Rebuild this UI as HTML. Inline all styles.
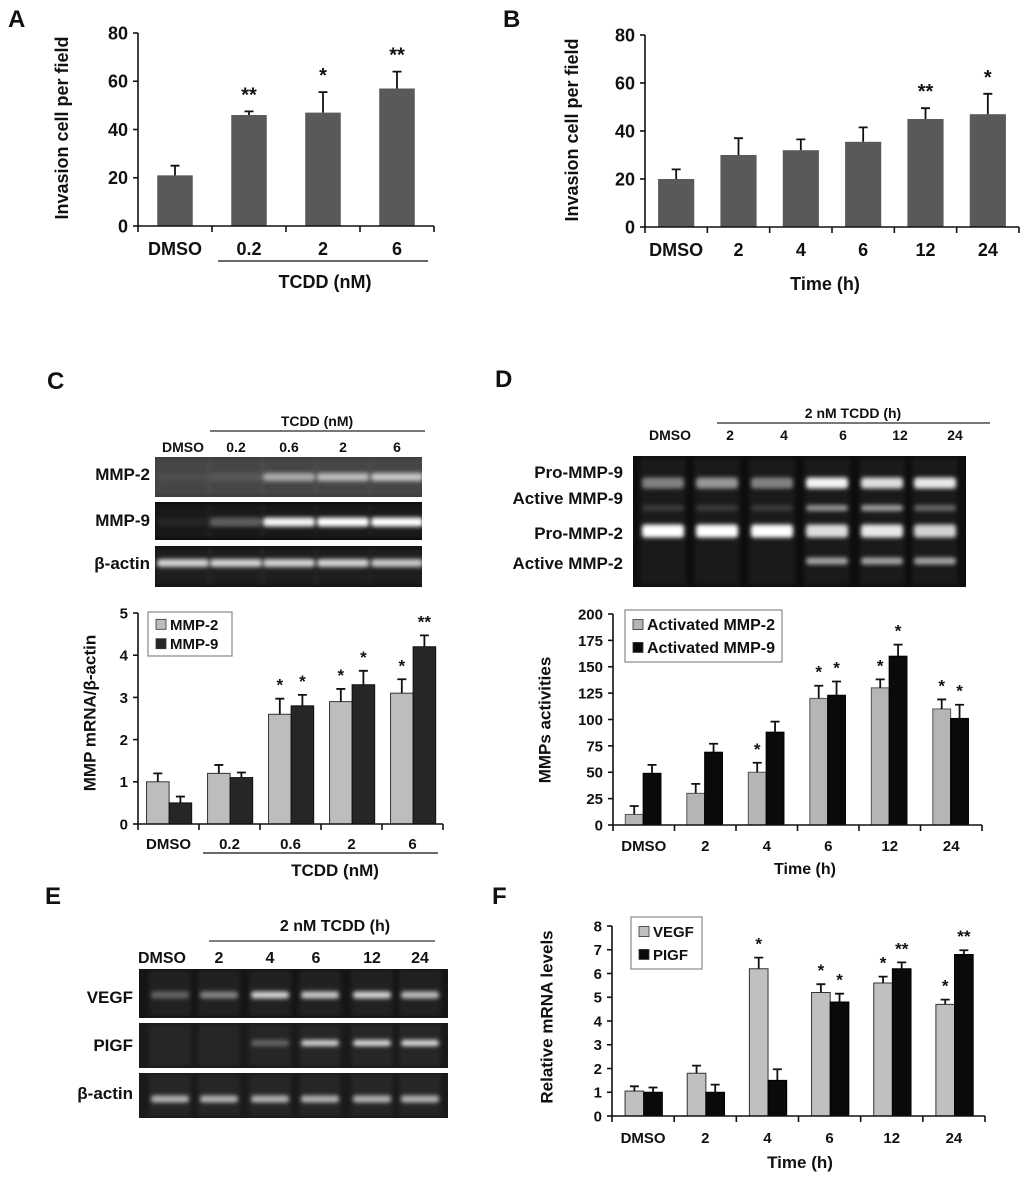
<!DOCTYPE html>
<html><head><meta charset="utf-8">
<style>
html,body{margin:0;padding:0;background:#fff;}
svg{display:block;font-family:"Liberation Sans",sans-serif;font-weight:bold;}
</style></head>
<body>
<svg id="fig" width="1024" height="1178" viewBox="0 0 1024 1178" xmlns="http://www.w3.org/2000/svg">
<defs>
<filter id="blur" x="-20%" y="-100%" width="140%" height="300%"><feGaussianBlur stdDeviation="2.2"/></filter>
</defs>
<g id="root"></g>
</svg>
<script>
// ---------- Data ----------
// Panel A
const aCats = ["DMSO","0.2","2","6"];
const aVals = [21,46,47,57];
const aErrs = [25,47.5,55.5,64];
const aStars = ["","**","*","**"];
const aTicks = [0,20,40,60,80];
// Panel B
const bCats = ["DMSO","2","4","6","12","24"];
const bVals = [20,30,32,35.5,45,47];
const bErrs = [24,37,36.5,41.5,49.5,55.5];
const bStars = ["","","","","**","*"];
const bTicks = [0,20,40,60,80];
// Panel C chart
const cCats = ["DMSO","0.2","0.6","2","6"];
const cMmp2 = [1.0,1.2,2.6,2.9,3.1];
const cMmp2Err = [1.2,1.4,2.97,3.2,3.43];
const cMmp9 = [0.5,1.1,2.8,3.3,4.2];
const cMmp9Err = [0.65,1.22,3.06,3.63,4.47];
const cStars2 = ["","","*","*","*"];
const cStars9 = ["","","*","*","**"];
const cTicks = [0,1,2,3,4,5];
// Panel D chart
const dCats = ["DMSO","2","4","6","12","24"];
const dMmp2 = [10,30,50,120,130,110];
const dMmp2Err = [18,39,59,132,138,119];
const dMmp9 = [49,69,88,123,160,101];
const dMmp9Err = [57,77,98,136,171,114];
const dStars2 = ["","","*","*","*","*"];
const dStars9 = ["","","","*","*","*"];
const dTicks = [0,25,50,75,100,125,150,175,200];
// Panel F chart
const fCats = ["DMSO","2","4","6","12","24"];
const fVegf = [1.05,1.8,6.2,5.2,5.6,4.7];
const fVegfErr = [1.25,2.12,6.67,5.55,5.87,4.9];
const fPigf = [1.0,1.0,1.5,4.8,6.2,6.8];
const fPigfErr = [1.2,1.32,1.97,5.15,6.47,6.98];
const fStarsV = ["","","*","*","*","*"];
const fStarsP = ["","","","*","**","**"];
const fTicks = [0,1,2,3,4,5,6,7,8];
// Gel band intensities
const cGelLanes = ["DMSO","0.2","0.6","2","6"];
const cGelMmp2 = [0.04,0.1,0.55,0.65,0.7];
const cGelMmp9 = [0.05,0.3,0.95,1,1];
const cGelActin = [0.8,0.8,0.8,0.8,0.75];
const dGelLanes = ["DMSO","2","4","6","12","24"];
const dGelPro9 = [0.45,0.55,0.45,0.95,0.85,0.9];
const dGelAct9 = [0.15,0.15,0.15,0.55,0.6,0.35];
const dGelPro2 = [1,1,1,0.85,0.9,0.8];
const dGelAct2 = [0,0,0,0.6,0.6,0.6];
const eGelLanes = ["DMSO","2","4","6","12","24"];
const eGelVegf = [0.3,0.45,0.8,0.75,0.8,0.7];
const eGelPigf = [0,0,0.3,0.8,0.85,0.85];
const eGelActin = [0.65,0.65,0.65,0.65,0.65,0.65];

// ---------- Helpers ----------
const NS="http://www.w3.org/2000/svg";
const root=document.getElementById('root');
function mk(tag,attrs,parent){const e=document.createElementNS(NS,tag);for(const k in attrs)e.setAttribute(k,attrs[k]);(parent||root).appendChild(e);return e;}
function txt(s,x,y,size,anchor,parent){const t=mk('text',{x:x,y:y,'font-size':size,'text-anchor':anchor||'middle',fill:'#111'},parent);t.textContent=s;return t;}

function barChart(cfg){
  const g=mk('g',{});
  
  
  const ys=v=>cfg.y0-(v/cfg.vmax)*(cfg.y0-cfg.yTop);
  const n=cfg.cats.length, gw=(cfg.xEnd-cfg.x0)/n;
  // bars
  cfg.series.forEach((s,si)=>{
    s.vals.forEach((v,i)=>{
      const gx=cfg.x0+i*gw;
      const bx=gx+s.off*gw, bw=s.w*gw;
      const r=mk('rect',{x:bx,y:ys(v),width:bw,height:cfg.y0-ys(v),fill:s.fill,stroke:s.stroke||'none','stroke-width':1},g);
      
      
      const cx=bx+bw/2, ey=ys(s.errs[i]);
      const e=mk('path',{d:`M${cx} ${ys(v)}V${ey}M${cx-4.5} ${ey}H${cx+4.5}`,stroke:'#111','stroke-width':1.8,fill:'none'},g);
      
      
      if(s.stars[i]){
        const st=txt(s.stars[i],cx,ey-cfg.starGap,cfg.starSize,'middle',g);
        
        
      }
    });
  });
  // axes
  const ax=mk('path',{d:`M${cfg.x0} ${cfg.yTop}V${cfg.y0}H${cfg.xEnd}`,stroke:'#111','stroke-width':1.6,fill:'none'},g);
  
  
  cfg.ticks.forEach(t=>{
    mk('line',{x1:cfg.x0-5,x2:cfg.x0,y1:ys(t),y2:ys(t),stroke:'#111','stroke-width':1.6},g);
    const tl=txt(String(t),cfg.x0-10,ys(t)+cfg.tickSize*0.36,cfg.tickSize,'end',g);
    
    
  });
  for(let i=0;i<=n;i++){const x=cfg.x0+i*gw;mk('line',{x1:x,x2:x,y1:cfg.y0,y2:cfg.y0+6,stroke:'#111','stroke-width':1.6},g);}
  cfg.cats.forEach((c,i)=>{
    const cl=txt(c,cfg.x0+(i+0.5)*gw,cfg.labelY,cfg.tickSize,'middle',g);
    
    
  });
  const yt=txt(cfg.ytitle,0,0,cfg.ytSize,'middle',g);
  yt.setAttribute('transform',`translate(${cfg.ytX},${cfg.ytY}) rotate(-90)`);
  yt.setAttribute('dominant-baseline','central');
  
  
  if(cfg.underline){mk('line',{x1:cfg.underline[0],x2:cfg.underline[1],y1:cfg.underline[2],y2:cfg.underline[2],stroke:'#111','stroke-width':1.3},g);}
  const xt=txt(cfg.xtitle,cfg.xtX,cfg.xtY,cfg.xtSize,'middle',g);
  
  
  if(cfg.legend){
    const L=cfg.legend;
    const lg=mk('g',{},g);
    
    
    mk('rect',{x:L.x,y:L.y,width:L.w,height:L.h,fill:'#fff',stroke:'#888','stroke-width':1.2},lg);
    L.items.forEach((it,k)=>{
      const cy=L.y+L.h*(k===0?0.28:0.72);
      const sw=mk('rect',{x:L.x+8,y:cy-5,width:10,height:10,fill:it.fill,stroke:'#333','stroke-width':0.8},lg);
      
      
      const lt=txt(it.label,L.x+22,cy+5.5,L.size,'start',lg);
      
      
    });
  }
}

function gel(x,y,w,h,bg,lanesX,rows,bw){
  const g=mk('g',{});
  
  
  mk('rect',{x:x,y:y,width:w,height:h,fill:bg},g);
  lanesX.forEach(lx=>mk('rect',{x:lx-bw/2-2,y:y+2,width:bw+4,height:h-4,fill:'#fff',opacity:0.05,filter:'url(#blur)'},g));
  rows.forEach(r=>{
    r.vals.forEach((v,i)=>{
      if(v<=0)return;
      const b=mk('rect',{x:lanesX[i]-bw/2,y:r.y-r.h/2,width:bw,height:r.h,rx:3,fill:'#fff',opacity:v,filter:'url(#blur)'},g);
      
      
    });
  });
}

// ---------- Panel letters ----------
[["A",8,27],["B",503,27],["C",47,389],["D",495,387],["E",45,904],["F",492,904]].forEach(p=>{
  const t=txt(p[0],p[1],p[2],24,'start');
  
  
});

// ---------- Panel A ----------
barChart({name:'panel-a-chart',cats:aCats,x0:138,y0:226,yTop:33,vmax:80,xEnd:434,ticks:aTicks,tickSize:18,labelY:255,
  series:[{vals:aVals,errs:aErrs,stars:aStars,fill:'#595959',off:0.26,w:0.48}],starGap:10,starSize:20,
  ytitle:'Invasion cell per field',ytX:62,ytY:128,ytSize:18,xtitle:'TCDD (nM)',xtX:325,xtY:288,xtSize:18,underline:[218,428,261]});
// ---------- Panel B ----------
barChart({name:'panel-b-chart',cats:bCats,x0:645,y0:227,yTop:35,vmax:80,xEnd:1019,ticks:bTicks,tickSize:18,labelY:256,
  series:[{vals:bVals,errs:bErrs,stars:bStars,fill:'#595959',off:0.21,w:0.58}],starGap:10,starSize:20,
  ytitle:'Invasion cell per field',ytX:572,ytY:130,ytSize:18,xtitle:'Time (h)',xtX:825,xtY:290,xtSize:18});

// ---------- Panel C gels ----------
txt('TCDD (nM)',317,426,14);
mk('line',{x1:210,x2:425,y1:431,y2:431,stroke:'#777','stroke-width':2});
const cLX=[183,236,289,343,397];
cGelLanes.forEach((l,i)=>txt(l,cLX[i],452,14));
gel(155,457,267,40,'#3c3c3c',cLX,[{y:477,h:8,vals:cGelMmp2}],52);
gel(155,502,267,38,'#0c0c0c',cLX,[{y:522,h:9,vals:cGelMmp9}],52);
gel(155,546,267,41,'#111',cLX,[{y:563,h:8,vals:cGelActin}],52);
txt('MMP-2',150,480,17,'end');txt('MMP-9',150,526,17,'end');txt('β-actin',150,569,17,'end');
// Panel C chart
barChart({name:'panel-c-chart',cats:cCats,x0:138,y0:824,yTop:613,vmax:5,xEnd:443,ticks:cTicks,tickSize:15,labelY:849,
  series:[{vals:cMmp2,errs:cMmp2Err,stars:cStars2,fill:'#bdbdbd',stroke:'#333',off:0.14,w:0.37},
          {vals:cMmp9,errs:cMmp9Err,stars:cStars9,fill:'#262626',stroke:'#111',off:0.51,w:0.37}],starGap:8,starSize:17,
  ytitle:'MMP mRNA/β-actin',ytX:90,ytY:713,ytSize:17,xtitle:'TCDD (nM)',xtX:335,xtY:876,xtSize:17,underline:[203,438,853],
  legend:{x:148,y:612,w:84,h:44,size:15,items:[{label:'MMP-2',fill:'#bdbdbd'},{label:'MMP-9',fill:'#262626'}]}});

// ---------- Panel D gels ----------
txt('2 nM TCDD (h)',853,418,14);
mk('line',{x1:717,x2:990,y1:423,y2:423,stroke:'#777','stroke-width':2});
const dHX=[670,730,784,843,900,955];
dGelLanes.forEach((l,i)=>txt(l,dHX[i],440,14));
const dLX=[663,717,772,827,882,935];
gel(633,456,333,131,'#0d0d0d',dLX,[{y:483,h:11,vals:dGelPro9},{y:508,h:6,vals:dGelAct9},{y:531,h:13,vals:dGelPro2},{y:561,h:7,vals:dGelAct2}],42);
txt('Pro-MMP-9',623,478,17,'end');txt('Active MMP-9',623,504,17,'end');
txt('Pro-MMP-2',623,539,17,'end');txt('Active MMP-2',623,569,17,'end');
// Panel D chart
barChart({name:'panel-d-chart',cats:dCats,x0:613,y0:825,yTop:614,vmax:200,xEnd:982,ticks:dTicks,tickSize:15,labelY:851,
  series:[{vals:dMmp2,errs:dMmp2Err,stars:dStars2,fill:'#b5b5b5',stroke:'#555',off:0.2,w:0.29},
          {vals:dMmp9,errs:dMmp9Err,stars:dStars9,fill:'#0a0a0a',stroke:'#000',off:0.49,w:0.29}],starGap:8,starSize:17,
  ytitle:'MMPs activities',ytX:545,ytY:720,ytSize:17,xtitle:'Time (h)',xtX:805,xtY:874,xtSize:16,
  legend:{x:625,y:610,w:157,h:52,size:16,items:[{label:'Activated MMP-2',fill:'#b5b5b5'},{label:'Activated MMP-9',fill:'#0a0a0a'}]}});

// ---------- Panel E gels ----------
txt('2 nM TCDD (h)',335,931,16);
mk('line',{x1:209,x2:435,y1:941,y2:941,stroke:'#555','stroke-width':1.5});
const eHX=[162,219,270,316,372,420];
eGelLanes.forEach((l,i)=>txt(l,eHX[i],963,16));
const eLX=[170,219,270,320,372,420];
gel(139,969,309,49,'#151515',eLX,[{y:995,h:7,vals:eGelVegf}],38);
gel(139,1023,309,45,'#1a1a1a',eLX,[{y:1043,h:6,vals:eGelPigf}],38);
gel(139,1073,309,45,'#1a1a1a',eLX,[{y:1099,h:7,vals:eGelActin}],38);
txt('VEGF',133,1003,17,'end');txt('PIGF',133,1051,17,'end');txt('β-actin',133,1099,17,'end');

// ---------- Panel F chart ----------
barChart({name:'panel-f-chart',cats:fCats,x0:612,y0:1116,yTop:926,vmax:8,xEnd:985,ticks:fTicks,tickSize:15,labelY:1143,
  series:[{vals:fVegf,errs:fVegfErr,stars:fStarsV,fill:'#c0c0c0',stroke:'#333',off:0.21,w:0.3},
          {vals:fPigf,errs:fPigfErr,stars:fStarsP,fill:'#0a0a0a',stroke:'#000',off:0.51,w:0.3}],starGap:8,starSize:17,
  ytitle:'Relative mRNA levels',ytX:547,ytY:1017,ytSize:17,xtitle:'Time (h)',xtX:800,xtY:1168,xtSize:17,
  legend:{x:631,y:917,w:71,h:52,size:15,items:[{label:'VEGF',fill:'#c0c0c0'},{label:'PIGF',fill:'#0a0a0a'}]}});
</script>
</body></html>
